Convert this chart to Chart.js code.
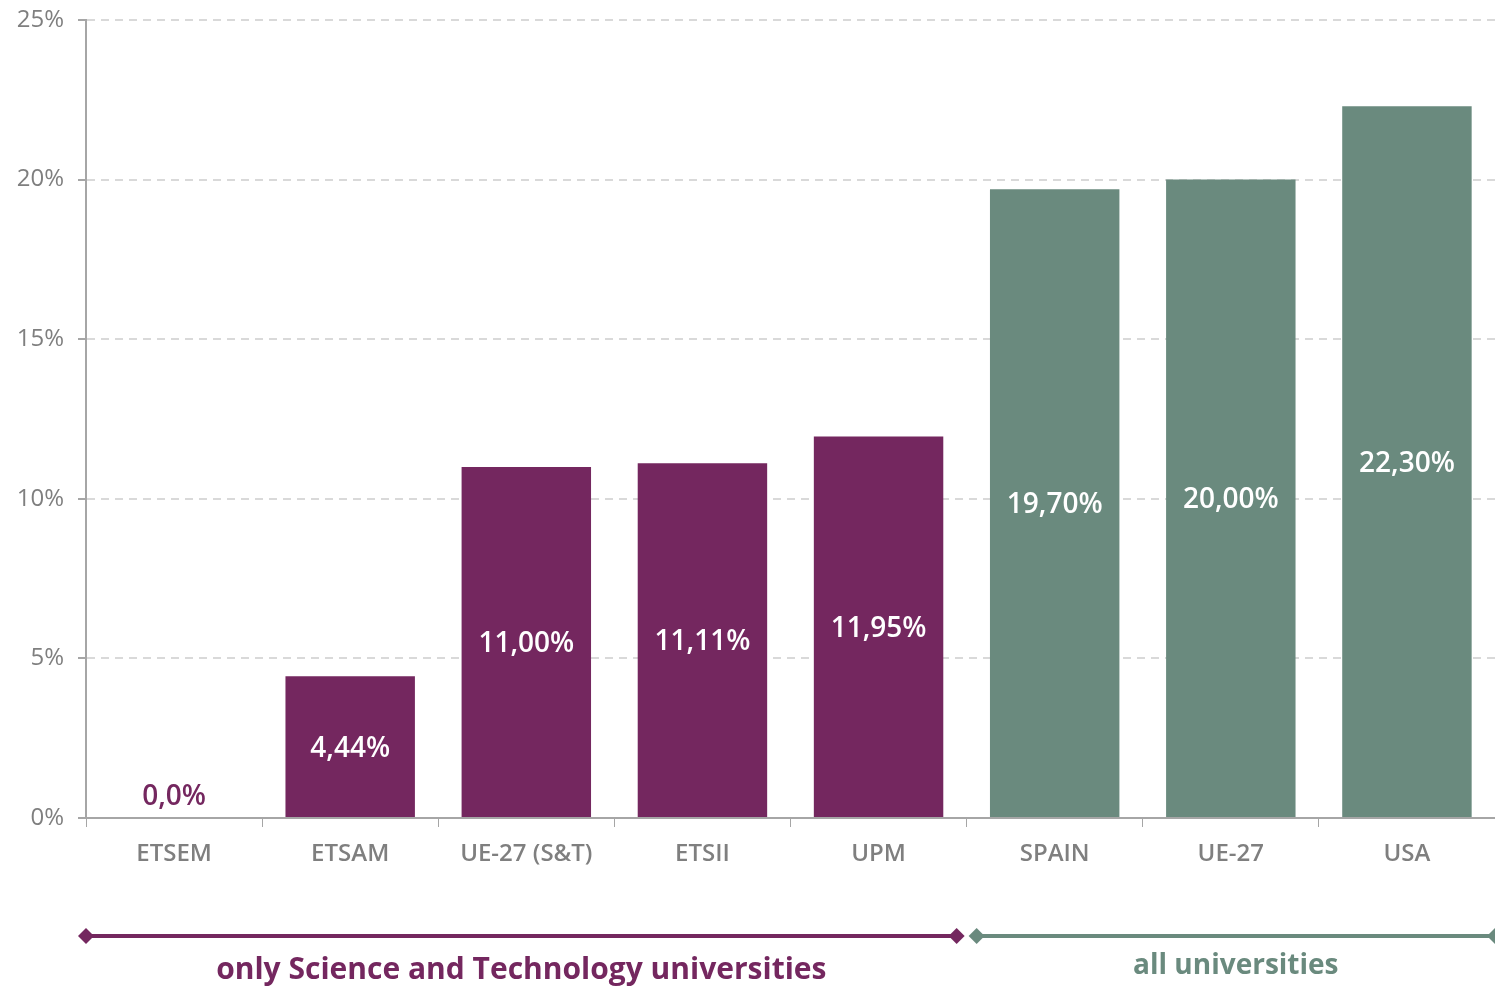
<!DOCTYPE html>
<html>
<head>
<meta charset="utf-8">
<script src="https://cdn.jsdelivr.net/npm/chart.js@4.4.0/dist/chart.umd.min.js"></script>
<style>
html,body{margin:0;padding:0;background:#fff;}
#wrap{width:1495px;height:987px;position:relative;}
</style>
</head>
<body>
<div id="wrap"><canvas id="c"></canvas></div>
<script>
const categories = ['ETSEM','ETSAM','UE-27 (S&T)','ETSII','UPM','SPAIN','UE-27','USA'];
const values = [0, 4.44, 11.00, 11.11, 11.95, 19.70, 20.00, 22.30];
const valueLabels = ['0,0%','4,44%','11,00%','11,11%','11,95%','19,70%','20,00%','22,30%'];
const groupOf = [0,0,0,0,0,1,1,1];
const groupNames = ['only Science and Technology universities','all universities'];
const groupColors = ['#74275F','#6A8A7E'];
const yTicks = [0,5,10,15,20,25];

const FONT = "'Open Sans', 'Lato', sans-serif";

const barLabelPlugin = {
  id: 'barLabels',
  afterDatasetsDraw(chart){
    const ctx = chart.ctx;
    const meta = chart.getDatasetMeta(0);
    ctx.save();
    ctx.font = "600 28px " + FONT;
    ctx.textAlign = 'center';
    ctx.textBaseline = 'middle';
    meta.data.forEach((bar, i) => {
      const v = values[i];
      if (v <= 0.5) {
        ctx.fillStyle = groupColors[groupOf[i]];
        ctx.fillText(valueLabels[i], bar.x, bar.base - 21);
      } else {
        ctx.fillStyle = '#ffffff';
        ctx.fillText(valueLabels[i], bar.x, (bar.y + bar.base)/2 + 2);
      }
    });
    ctx.restore();
  }
};

const groupPlugin = {
  id: 'groups',
  afterDraw(chart){
    const ctx = chart.ctx;
    const x = chart.scales.x;
    const n = categories.length;
    const half = (x.getPixelForValue(1) - x.getPixelForValue(0))/2;
    const lineY = 936;
    ctx.save();
    for (let g = 0; g < groupNames.length; g++){
      const idx = groupOf.map((v,i)=>v===g?i:-1).filter(i=>i>=0);
      const from = idx[0], to = idx[idx.length-1];
      let x0 = x.getPixelForValue(from) - half;
      let x1 = x.getPixelForValue(to) + half;
      if (from > 0) x0 += 10;
      if (to < n-1) x1 -= 10;
      const col = groupColors[g];
      ctx.strokeStyle = col;
      ctx.fillStyle = col;
      ctx.lineWidth = 4;
      ctx.beginPath();
      ctx.moveTo(x0, lineY);
      ctx.lineTo(x1, lineY);
      ctx.stroke();
      [x0, x1].forEach(px => {
        ctx.beginPath();
        ctx.moveTo(px, lineY-8);
        ctx.lineTo(px+8, lineY);
        ctx.lineTo(px, lineY+8);
        ctx.lineTo(px-8, lineY);
        ctx.closePath();
        ctx.fill();
      });
      ctx.font = "bold " + (g === 0 ? 30 : 28) + "px " + FONT;
      ctx.textAlign = 'center';
      ctx.textBaseline = 'middle';
      ctx.fillText(groupNames[g], (x0+x1)/2, g === 0 ? 970 : 966);
    }
    ctx.restore();
  }
};

new Chart(document.getElementById('c'), {
  type: 'bar',
  data: {
    labels: categories,
    datasets: [{
      data: values,
      backgroundColor: groupOf.map(g => groupColors[g]),
      borderWidth: 0,
      barPercentage: 0.735,
      categoryPercentage: 1.0
    }]
  },
  options: {
    responsive: true,
    maintainAspectRatio: false,
    animation: false,
    devicePixelRatio: 1,
    layout: { padding: { top: 0, right: 0, bottom: 0, left: 0 } },
    plugins: { legend: { display: false }, tooltip: { enabled: false } },
    scales: {
      x: {
        grid: { display: true, drawOnChartArea: false, drawTicks: true, tickLength: 9, color: '#a6a6a6', offset: true },
        border: { display: true, color: '#a6a6a6', width: 2 },
        ticks: { color: '#7f7f7f', font: { family: FONT, size: 24, weight: '600' }, padding: 13, maxRotation: 0, autoSkip: false },
        afterFit(axis){ axis.height = 169; axis.paddingLeft = 0; axis.paddingRight = 0; }
      },
      y: {
        min: 0, max: 25,
        afterBuildTicks(axis){ axis.ticks = yTicks.map(v => ({value: v})); },
        grid: { color: '#d9d9d9', lineWidth: 2, tickColor: '#a6a6a6', tickLength: 8, drawTicks: true },
        border: { display: true, color: '#a6a6a6', width: 2, dash: [8, 6] },
        ticks: { color: '#7f7f7f', font: { family: FONT, size: 24 }, padding: 14, callback: v => v + '%' },
        afterFit(axis){ axis.width = 86; axis.paddingTop = 20; axis.paddingBottom = 0; }
      }
    }
  },
  plugins: [barLabelPlugin, groupPlugin]
});
</script>
</body>
</html>
